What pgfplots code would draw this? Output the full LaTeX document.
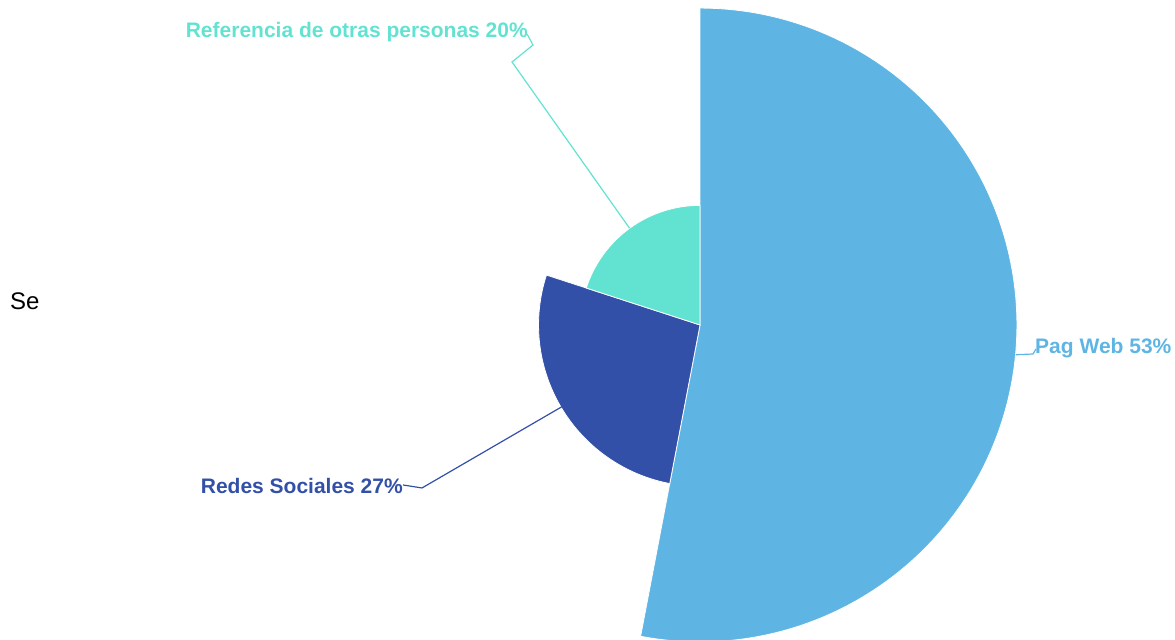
\documentclass[border=0pt]{standalone}
\usepackage{pgfplots}
\pgfplotsset{compat=1.18}
\usepackage{fontspec}
\setmainfont{Liberation Sans}
\definecolor{web}{HTML}{5EB5E4}
\definecolor{redes}{HTML}{3350A8}
\definecolor{refer}{HTML}{62E3D1}
% radius of a slice = value * \k (pt)
\def\k{5.98}
\tikzset{lbl/.style={font=\fontsize{21}{23}\selectfont\bfseries, inner sep=0pt}}
\begin{document}
\begin{tikzpicture}
\begin{axis}[
  name=ax,
  width=1175pt, height=640pt, scale only axis,
  xmin=-700, xmax=475, ymin=-315, ymax=325,
  hide axis, clip=false,
  every axis plot/.append style={draw=white, line width=0.8pt, samples=120, smooth},
]
% Pag Web 53%: 90 -> -100.8 deg
\addplot[fill=web, domain=-100.8:90] ({53*\k*cos(x)},{53*\k*sin(x)}) -- (axis cs:0,0) -- cycle;
% Redes Sociales 27%: 162 -> 259.2 deg
\addplot[fill=redes, domain=162:259.2] ({27*\k*cos(x)},{27*\k*sin(x)}) -- (axis cs:0,0) -- cycle;
% Referencia de otras personas 20%: 90 -> 162 deg
\addplot[fill=refer, domain=90:162] ({20*\k*cos(x)},{20*\k*sin(x)}) -- (axis cs:0,0) -- cycle;

\draw[web, line width=1.2pt] (axis cs:315.6,-29.8) -- (axis cs:333,-29) -- (axis cs:336,-24);
\node[lbl, web, anchor=west] at (axis cs:335,-23) {Pag Web 53\%};

\draw[redes, line width=1.2pt] (axis cs:-137.7,-81.5) -- (axis cs:-278,-163) -- (axis cs:-297,-160);
\node[lbl, redes, anchor=east] at (axis cs:-297,-161) {Redes Sociales 27\%};

\draw[refer, line width=1.2pt] (axis cs:-70.5,96.8) -- (axis cs:-188,263) -- (axis cs:-167,280) -- (axis cs:-173,291);
\node[lbl, refer, anchor=east] at (axis cs:-172,293) {Referencia de otras personas 20\%};

\node[anchor=west, inner sep=0pt, font=\fontsize{24}{26}\selectfont] at (axis cs:-690,24) {Se};
\end{axis}
\pgfresetboundingbox
\path (ax.south west) rectangle (ax.north east);
\end{tikzpicture}
\end{document}
